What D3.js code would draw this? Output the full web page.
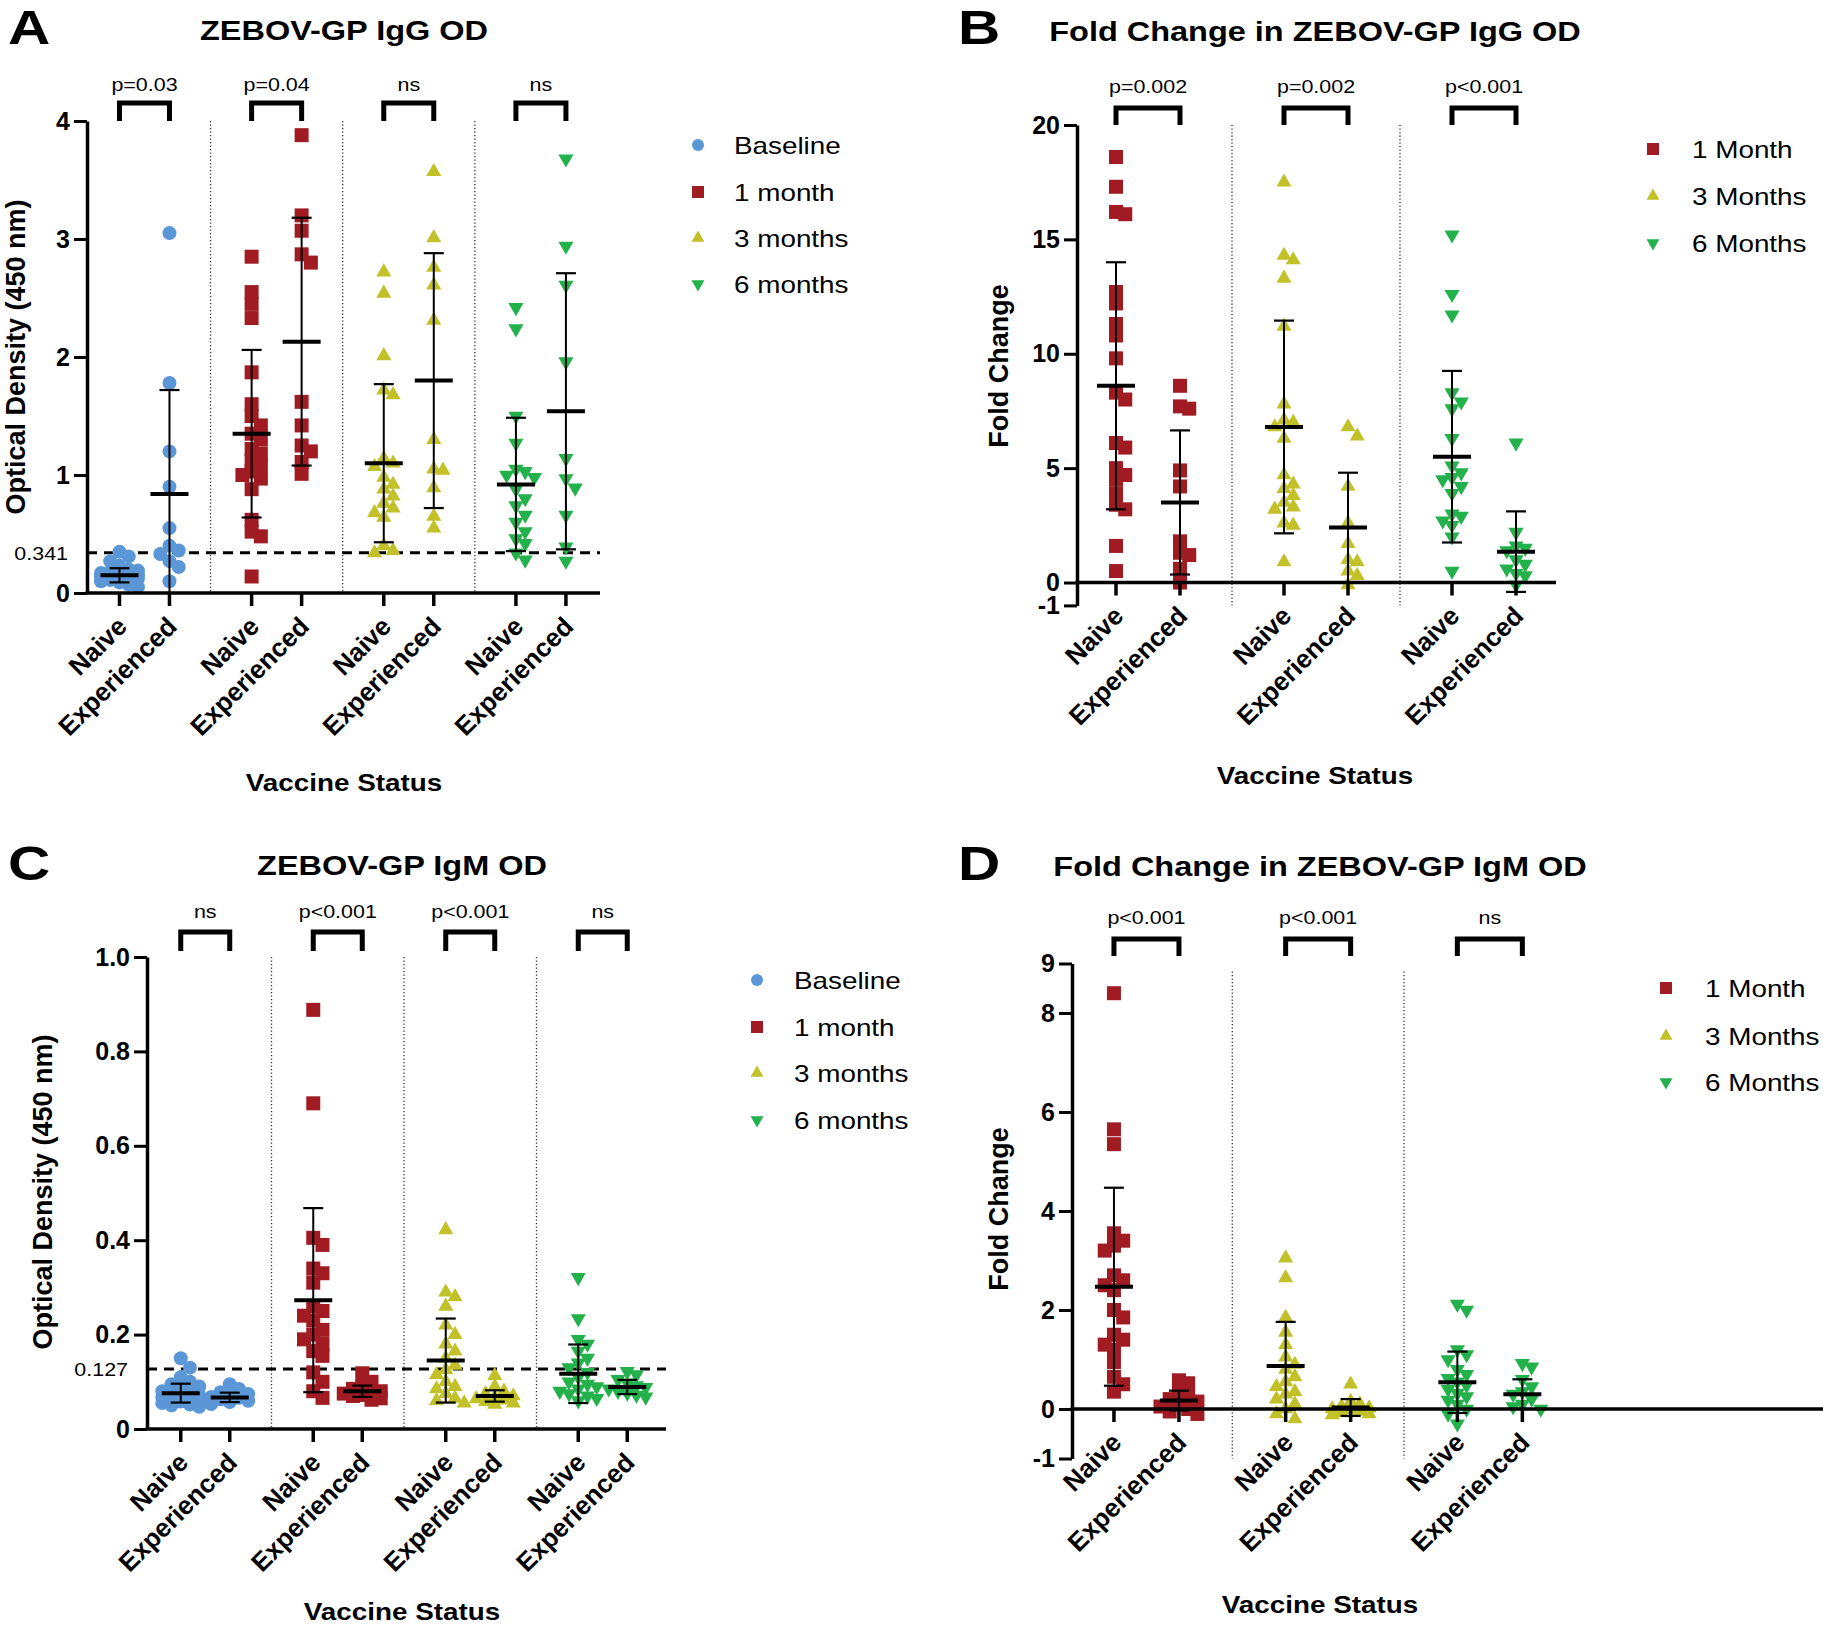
<!DOCTYPE html>
<html><head><meta charset="utf-8">
<script src="https://cdn.jsdelivr.net/npm/d3@7"></script>
<style>
body{margin:0;background:#fff}
text{font-family:'Liberation Sans',Arial,Helvetica,sans-serif;fill:#000}
</style>
</head><body>
<svg id="chart" width="1823" height="1628"></svg>
<script>
// ---------------- DATA ----------------
const groupLabels = ["Naive", "Experienced"];
const seriesODLabels = ["Baseline", "1 month", "3 months", "6 months"];
const seriesFoldLabels = ["1 Month", "3 Months", "6 Months"];

const ticksA = [0, 1, 2, 3, 4];
const tickLabelsA = ["0", "1", "2", "3", "4"];
const ticksB = [-1, 0, 5, 10, 15, 20];
const tickLabelsB = ["-1", "0", "5", "10", "15", "20"];
const ticksC = [0, 0.2, 0.4, 0.6, 0.8, 1.0];
const tickLabelsC = ["0", "0.2", "0.4", "0.6", "0.8", "1.0"];
const ticksD = [-1, 0, 2, 4, 6, 8, 9];
const tickLabelsD = ["-1", "0", "2", "4", "6", "8", "9"];

const pValuesA = ["p=0.03", "p=0.04", "ns", "ns"];
const pValuesB = ["p=0.002", "p=0.002", "p<0.001"];
const pValuesC = ["ns", "p<0.001", "p<0.001", "ns"];
const pValuesD = ["p<0.001", "p<0.001", "ns"];

const cutoffA = 0.341;
const cutoffC = 0.127;

// Panel A: IgG OD (Baseline, 1m, 3m, 6m)
const A_naive = [
  [0.35, 0.31, 0.27, 0.23, 0.2, 0.19, 0.18, 0.17, 0.16, 0.16, 0.15, 0.15, 0.14, 0.13, 0.12, 0.12, 0.11, 0.1, 0.09, 0.07, 0.05],
  [2.85, 2.55, 2.45, 2.33, 1.87, 1.6, 1.5, 1.42, 1.35, 1.3, 1.22, 1.18, 1.12, 1.08, 1.03, 1.0, 0.97, 0.88, 0.62, 0.52, 0.48, 0.14],
  [2.72, 2.54, 2.01, 1.72, 1.68, 1.14, 1.1, 1.07, 0.98, 0.92, 0.88, 0.82, 0.76, 0.72, 0.68, 0.64, 0.4, 0.36, 0.34],
  [2.42, 2.24, 1.5, 1.27, 1.05, 1.03, 1.0, 0.98, 0.88, 0.8, 0.74, 0.66, 0.6, 0.52, 0.46, 0.42, 0.34, 0.28]
];
const A_exp = [
  [3.05, 1.78, 1.2, 0.9, 0.55, 0.4, 0.36, 0.33, 0.27, 0.22, 0.1],
  [3.88, 3.2, 3.07, 2.87, 2.8, 1.62, 1.42, 1.25, 1.2, 1.11, 1.01],
  [3.57, 3.01, 2.76, 2.61, 2.31, 1.3, 1.05, 1.04, 0.89, 0.65, 0.55],
  [3.68, 2.94, 2.61, 1.96, 1.14, 0.97, 0.89, 0.66, 0.39, 0.27]
];
const A_mean = [[0.15, 0.84], [1.35, 2.13], [1.1, 1.8], [0.92, 1.54]];
const A_sd = [[0.06, 0.88], [0.71, 1.05], [0.67, 1.08], [0.565, 1.17]];

// Panel B: fold change IgG (1m, 3m, 6m)
const B_naive = [
  [18.6, 17.3, 16.2, 16.1, 12.7, 12.2, 11.3, 10.8, 9.8, 8.3, 8.0, 6.1, 5.9, 5.0, 4.7, 4.5, 3.9, 3.4, 3.2, 1.6, 0.5],
  [17.5, 14.3, 14.1, 13.3, 11.2, 7.8, 7.1, 7.0, 6.8, 6.3, 4.7, 4.3, 4.1, 3.8, 3.5, 3.3, 3.2, 2.6, 2.5, 0.9],
  [15.2, 12.6, 11.7, 8.3, 7.9, 7.6, 6.3, 5.1, 4.8, 4.6, 4.5, 4.2, 3.9, 3.0, 2.9, 2.7, 2.5, 2.0, 0.5]
];
const B_exp = [
  [8.6, 7.7, 7.6, 4.9, 4.2, 1.8, 1.3, 1.2, 0.6, 0.0],
  [6.8, 6.4, 4.2, 2.6, 1.7, 1.0, 0.9, 0.5, 0.3, -0.1],
  [6.1, 2.2, 1.6, 1.5, 1.4, 1.0, 0.8, 0.6, 0.4, 0.3, -0.1]
];
const B_mean = [[8.6, 3.5], [6.8, 2.4], [5.5, 1.35]];
const B_sd = [[5.4, 3.15], [4.65, 2.4], [3.75, 1.76]];

// Panel C: IgM OD (Baseline, 1m, 3m, 6m)
const C_naive = [
  [0.15, 0.13, 0.11, 0.1, 0.095, 0.09, 0.085, 0.08, 0.078, 0.075, 0.072, 0.07, 0.068, 0.065, 0.062, 0.06, 0.058, 0.055, 0.052, 0.05, 0.047],
  [0.888, 0.69, 0.405, 0.39, 0.34, 0.33, 0.31, 0.26, 0.25, 0.24, 0.23, 0.21, 0.2, 0.19, 0.18, 0.165, 0.155, 0.12, 0.1, 0.08, 0.066],
  [0.422, 0.29, 0.28, 0.26, 0.22, 0.2, 0.18, 0.165, 0.15, 0.135, 0.125, 0.115, 0.1, 0.09, 0.085, 0.075, 0.065, 0.06, 0.055],
  [0.321, 0.234, 0.19, 0.18, 0.165, 0.15, 0.14, 0.13, 0.12, 0.11, 0.1, 0.095, 0.09, 0.085, 0.08, 0.075, 0.07, 0.065, 0.06]
];
const C_exp = [
  [0.095, 0.085, 0.078, 0.074, 0.07, 0.068, 0.066, 0.063, 0.06, 0.057, 0.053],
  [0.118, 0.1, 0.09, 0.085, 0.08, 0.078, 0.075, 0.072, 0.07, 0.065, 0.062],
  [0.113, 0.09, 0.08, 0.075, 0.07, 0.067, 0.064, 0.061, 0.058, 0.055, 0.052],
  [0.122, 0.115, 0.105, 0.098, 0.092, 0.088, 0.085, 0.08, 0.076, 0.072, 0.068]
];
const C_mean = [[0.076, 0.067], [0.273, 0.08], [0.145, 0.07], [0.117, 0.089]];
const C_sd = [[0.02, 0.01], [0.195, 0.012], [0.089, 0.012], [0.062, 0.015]];

// Panel D: fold change IgM (1m, 3m, 6m)
const D_naive = [
  [8.4, 5.65, 5.35, 3.55, 3.4, 3.3, 3.2, 2.7, 2.6, 2.5, 2.4, 2.0, 1.85, 1.5, 1.4, 1.3, 1.2, 0.95, 0.65, 0.5, 0.35],
  [3.05, 2.65, 1.85, 1.55, 1.3, 1.05, 0.9, 0.8, 0.65, 0.55, 0.45, 0.35, 0.3, 0.2, 0.1, 0.0, -0.1, -0.2],
  [2.12, 2.0, 1.2, 1.1, 1.0, 0.8, 0.7, 0.62, 0.55, 0.48, 0.4, 0.32, 0.25, 0.18, 0.1, 0.0, -0.1, -0.3]
];
const D_exp = [
  [0.58, 0.52, 0.35, 0.25, 0.2, 0.15, 0.1, 0.05, 0.0, -0.05, -0.1],
  [0.5, 0.15, 0.1, 0.05, 0.02, 0.0, -0.02, -0.05, -0.08, -0.1, -0.12],
  [0.92, 0.85, 0.6, 0.45, 0.35, 0.3, 0.2, 0.1, 0.05, 0.0]
];
const D_mean = [[2.47, 0.17], [0.87, 0.03], [0.54, 0.3]];
const D_sd = [[2.0, 0.2], [0.89, 0.17], [0.62, 0.3]];

// ---------------- STYLE / LAYOUT ----------------
const COLORS = {baseline: "#5b97d6", m1: "#a01b22", m3: "#c2c12a", m6: "#22b14a"};
const SHAPES = {baseline: "circle", m1: "square", m3: "up", m6: "down"};
const odKeys = ["baseline", "m1", "m3", "m6"];
const foldKeys = ["m1", "m3", "m6"];
const SX = 1.16; // horizontal stretch of the original figure's text

const svg = d3.select("#chart");

function symPath(shape, s) {
  if (shape === "circle") return d3.symbol(d3.symbolCircle, Math.PI * (s / 2) * (s / 2))();
  if (shape === "square") return d3.symbol(d3.symbolSquare, s * s)();
  const side = s * 1.08;
  return d3.symbol(d3.symbolTriangle, Math.sqrt(3) / 4 * side * side)();
}
function drawMarker(g, shape, x, y, s, color) {
  g.append("path").attr("d", symPath(shape, s))
    .attr("transform", `translate(${x},${y})` + (shape === "down" ? " rotate(180)" : ""))
    .attr("fill", color);
}
function stretchedText(g, x, y, str, size, weight, anchor, sx) {
  return g.append("text").attr("transform", `translate(${x},${y}) scale(${sx},1)`)
    .attr("font-size", size).attr("font-weight", weight).attr("text-anchor", anchor).text(str);
}
// deterministic, compact beeswarm (GraphPad-like), limited to +/- maxK columns
function swarm(values, y, size) {
  const pts = values.map(v => ({v, y: y(v)})).sort((a, b) => b.v - a.v);
  const placed = [];
  const step = size * 0.66;
  const vth = size * 0.72;
  const maxK = 2;
  const offs = [0];
  for (let k = 1; k <= maxK; k++) { offs.push(k * step, -k * step); }
  for (const p of pts) {
    let best = 0, bestScore = Infinity;
    for (const off of offs) {
      let score = 0;
      placed.forEach(q => {
        const dx = Math.abs(q.dx - off), dy = Math.abs(q.y - p.y);
        if (dx < step * 0.98 && dy < vth) score += (vth - dy) + 1;
      });
      if (score === 0) { best = off; bestScore = 0; break; }
      if (score < bestScore) { bestScore = score; best = off; }
    }
    p.dx = best;
    placed.push(p);
  }
  return placed;
}

function drawPanel(L, D) {
  const g = svg.append("g");
  const y = d3.scaleLinear().domain(D.domain).range(L.yr);
  const xg = d3.scaleBand().domain(d3.range(D.naive.length)).range(L.band).padding(0);
  const xi = d3.scalePoint().domain(groupLabels).range([-L.inner, L.inner]);
  const xpos = (gi, k) => xg(gi) + xg.bandwidth() / 2 + xi(groupLabels[k]);
  const y0 = y(0);
  const yMin = y(D.domain[0]), yMax = y(D.domain[1]);

  // dotted separators
  for (let i = 1; i < D.naive.length; i++) {
    const sx = xg(i);
    g.append("line").attr("x1", sx).attr("x2", sx).attr("y1", yMax + L.sepTop).attr("y2", yMin)
      .attr("stroke", "#333").attr("stroke-width", 1.3).attr("stroke-dasharray", "1.3,2.2");
  }
  // cutoff
  if (D.cutoff !== undefined) {
    g.append("line").attr("x1", L.ax).attr("x2", L.axEnd).attr("y1", y(D.cutoff)).attr("y2", y(D.cutoff))
      .attr("stroke", "#000").attr("stroke-width", 3).attr("stroke-dasharray", "10,7");
    stretchedText(g, L.ax - 19, y(D.cutoff) + 7, String(D.cutoff), 18.5, "normal", "end", SX);
  }
  // points
  const ms = 14;
  D.naive.forEach((arr, gi) => {
    const key = D.keys[gi];
    [arr, D.exp[gi]].forEach((vals, k) => {
      const cx = xpos(gi, k);
      swarm(vals, y, ms).forEach(p => drawMarker(g, SHAPES[key], cx + p.dx, p.y, ms, COLORS[key]));
    });
  });
  // mean +/- SD
  D.mean.forEach((mm, gi) => {
    mm.forEach((m, k) => {
      const cx = xpos(gi, k);
      const lo = Math.max(m - D.sd[gi][k], D.domain[0]);
      const hi = Math.min(m + D.sd[gi][k], D.domain[1]);
      g.append("line").attr("x1", cx).attr("x2", cx).attr("y1", y(lo)).attr("y2", y(hi)).attr("stroke", "#000").attr("stroke-width", 2);
      [lo, hi].forEach(v => {
        if (v === D.domain[0]) return;
        g.append("line").attr("x1", cx - 10).attr("x2", cx + 10).attr("y1", y(v)).attr("y2", y(v)).attr("stroke", "#000").attr("stroke-width", 2.2);
      });
      g.append("line").attr("x1", cx - 19).attr("x2", cx + 19).attr("y1", y(m)).attr("y2", y(m)).attr("stroke", "#000").attr("stroke-width", 4);
    });
  });
  // y axis
  const ya = g.append("g").attr("transform", `translate(${L.ax},0)`)
    .call(d3.axisLeft(y).tickValues(D.ticks).tickFormat((d, i) => D.tickLabels[i]).tickSize(13).tickSizeOuter(0).tickPadding(4));
  ya.select(".domain").attr("stroke-width", 3.5).attr("stroke", "#000");
  ya.selectAll(".tick line").attr("stroke-width", 3).attr("stroke", "#000");
  ya.selectAll(".tick text").attr("font-size", 25).attr("font-weight", "bold").attr("fill", "#000")
    .attr("font-family", "'Liberation Sans',Arial,sans-serif");
  // x axis line at 0
  g.append("line").attr("x1", L.ax - 1.5).attr("x2", L.axEnd).attr("y1", y0).attr("y2", y0).attr("stroke", "#000").attr("stroke-width", 3.5);
  D.naive.forEach((arr, gi) => {
    groupLabels.forEach((lab, k) => {
      const cx = xpos(gi, k);
      g.append("line").attr("x1", cx).attr("x2", cx).attr("y1", y0).attr("y2", y0 + 13).attr("stroke", "#000").attr("stroke-width", 3.5);
      g.append("text").attr("transform", `translate(${cx + 9},${y0 + 35}) rotate(-45)`)
        .attr("text-anchor", "end").attr("font-size", 26).attr("font-weight", "bold").text(lab);
    });
    // bracket + p value
    const xa = xpos(gi, 0), xb = xpos(gi, 1);
    g.append("path").attr("d", `M${xa},${L.brBot} V${L.brTop} H${xb} V${L.brBot}`)
      .attr("fill", "none").attr("stroke", "#000").attr("stroke-width", 5).attr("stroke-linejoin", "miter");
    stretchedText(g, (xa + xb) / 2, L.pY, D.pvals[gi], 18.5, "normal", "middle", SX);
  });
  // titles
  stretchedText(g, L.title[0], L.title[1], D.title, 28, "bold", "middle", SX);
  stretchedText(g, L.letter[0], L.letter[1], D.letter, 48, "bold", "start", 1.22);
  g.append("text").attr("transform", `translate(${L.ylab[0]},${L.ylab[1]}) rotate(-90)`)
    .attr("text-anchor", "middle").attr("font-size", 27).attr("font-weight", "bold").text(D.ylabel);
  stretchedText(g, L.xlab[0], L.xlab[1], "Vaccine Status", 24, "bold", "middle", SX);
  // legend
  D.legend.forEach((lab, i) => {
    const key = D.keys[i];
    drawMarker(g, SHAPES[key], L.leg.mx, L.leg.y[i], 12, COLORS[key]);
    stretchedText(g, L.leg.tx, L.leg.y[i] + 8.5, lab, 24, "normal", "start", SX);
  });
}

const layoutA = {ax: 87, axEnd: 600, yr: [593, 121], band: [78.4, 607], inner: 25, sepTop: 0,
  brTop: 103, brBot: 121, pY: 91, title: [344, 40], letter: [8, 44], ylab: [25, 357], xlab: [344, 791],
  leg: {mx: 698, tx: 734, y: [145, 192, 238, 284]}};
const layoutB = {ax: 1077, axEnd: 1556, yr: [605.4, 125], band: [1064, 1568], inner: 32, sepTop: 0,
  brTop: 108, brBot: 125, pY: 93, title: [1315, 41], letter: [958, 44], ylab: [1008, 366], xlab: [1315, 784],
  leg: {mx: 1653, tx: 1692, y: [149, 196, 243]}};
const layoutC = {ax: 147, axEnd: 666, yr: [1429, 957], band: [139, 669], inner: 24.5, sepTop: 0,
  brTop: 932, brBot: 951, pY: 918, title: [402, 875], letter: [8, 880], ylab: [52, 1192], xlab: [402, 1620],
  leg: {mx: 757, tx: 794, y: [980, 1027, 1073, 1120]}};
const layoutD = {ax: 1072, axEnd: 1823, yr: [1458.5, 963.5], band: [1060.6, 1575.7], inner: 32.5, sepTop: 8,
  brTop: 939, brBot: 956, pY: 924, title: [1320, 876], letter: [958, 880], ylab: [1008, 1209], xlab: [1320, 1613],
  leg: {mx: 1666, tx: 1705, y: [988, 1036, 1082]}};

drawPanel(layoutA, {naive: A_naive, exp: A_exp, mean: A_mean, sd: A_sd, pvals: pValuesA, domain: [0, 4],
  ticks: ticksA, tickLabels: tickLabelsA, keys: odKeys, legend: seriesODLabels, cutoff: cutoffA,
  title: "ZEBOV-GP IgG OD", letter: "A", ylabel: "Optical Density (450 nm)"});
drawPanel(layoutB, {naive: B_naive, exp: B_exp, mean: B_mean, sd: B_sd, pvals: pValuesB, domain: [-1, 20],
  ticks: ticksB, tickLabels: tickLabelsB, keys: foldKeys, legend: seriesFoldLabels,
  title: "Fold Change in ZEBOV-GP IgG OD", letter: "B", ylabel: "Fold Change"});
drawPanel(layoutC, {naive: C_naive, exp: C_exp, mean: C_mean, sd: C_sd, pvals: pValuesC, domain: [0, 1.0],
  ticks: ticksC, tickLabels: tickLabelsC, keys: odKeys, legend: seriesODLabels, cutoff: cutoffC,
  title: "ZEBOV-GP IgM OD", letter: "C", ylabel: "Optical Density (450 nm)"});
drawPanel(layoutD, {naive: D_naive, exp: D_exp, mean: D_mean, sd: D_sd, pvals: pValuesD, domain: [-1, 9],
  ticks: ticksD, tickLabels: tickLabelsD, keys: foldKeys, legend: seriesFoldLabels,
  title: "Fold Change in ZEBOV-GP IgM OD", letter: "D", ylabel: "Fold Change"});
</script>
</body></html>
